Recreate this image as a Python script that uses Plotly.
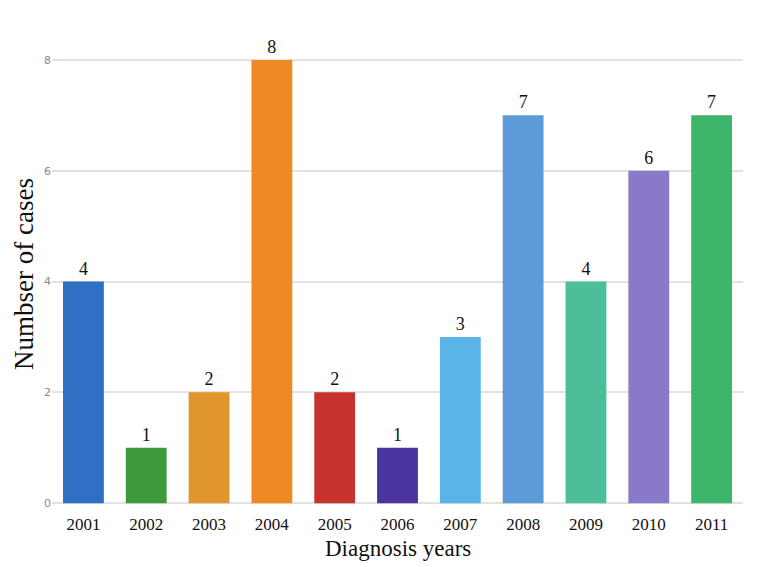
import plotly.graph_objects as go

years = ["2001", "2002", "2003", "2004", "2005", "2006", "2007", "2008", "2009", "2010", "2011"]
cases = [4, 1, 2, 8, 2, 1, 3, 7, 4, 6, 7]
colors = ["#2f6fc4", "#3c9a3c", "#e0962a", "#ee8a26", "#c8322f", "#4b33a0",
          "#5ab4e8", "#5d9bd8", "#4cbf9a", "#8a78c8", "#3db56a"]
y_ticks = [0, 2, 4, 6, 8]

serif = "Palatino Linotype, Book Antiqua, Liberation Serif, DejaVu Serif, serif"

fig = go.Figure(go.Bar(
    x=years, y=cases,
    marker=dict(color=colors, line=dict(width=0)),
    text=[str(v) for v in cases], textposition="outside",
    textfont=dict(family=serif, size=18, color="#111111"),
    cliponaxis=False,
))

fig.update_layout(
    width=771, height=567,
    margin=dict(l=44, r=36, t=12, b=63),
    paper_bgcolor="white", plot_bgcolor="white",
    bargap=0.35,
    showlegend=False,
    font=dict(family=serif, color="#111111"),
    xaxis=dict(
        tickfont=dict(family=serif, size=17, color="#111111"),
        showgrid=False, showline=False, ticks="",
        ticklabelstandoff=0,
        automargin=False,
    ),
    yaxis=dict(
        range=[-0.16, 8.72],
        tickvals=y_ticks,
        tickfont=dict(family="DejaVu Sans", size=11, color="#888888"),
        showgrid=True, gridcolor="#e2e2e2", gridwidth=2,
        zeroline=False, showline=False, ticks="",
        automargin=False,
    ),
    annotations=[
        dict(text="Diagnosis years", xref="paper", yref="paper", x=0.5, y=0,
             yshift=-36, xanchor="center", yanchor="middle", showarrow=False,
             borderpad=0,
             font=dict(family=serif, size=23, color="#111111")),
        dict(text="Numbser of cases", xref="paper", yref="paper", x=0, y=0.5,
             xshift=-28, yshift=-8, textangle=-90, xanchor="center", yanchor="middle",
             showarrow=False, font=dict(family=serif, size=27, color="#111111")),
    ],
)

fig.write_html("out.html")
